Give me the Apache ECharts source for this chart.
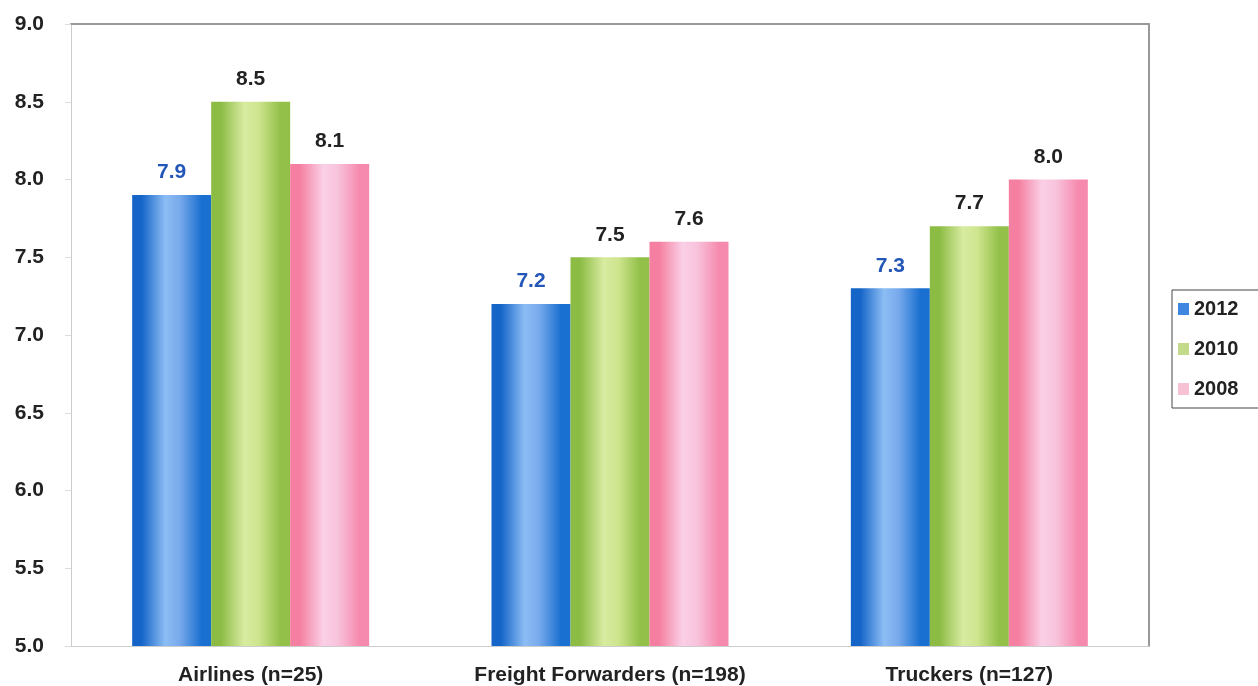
<!DOCTYPE html>
<html>
<head>
<meta charset="utf-8">
<script src="https://cdn.jsdelivr.net/npm/echarts@6/dist/echarts.min.js"></script>
<style>
  html, body { margin: 0; padding: 0; background: #fff; }
  #chart { width: 1258px; height: 686px; }
</style>
</head>
<body>
<div id="chart"></div>
<script>
// Satisfaction scores by carrier type, three survey years
const categories = ['Airlines (n=25)', 'Freight Forwarders (n=198)', 'Truckers (n=127)'];
const years = ['2012', '2010', '2008'];
const scores2012 = [7.9, 7.2, 7.3];
const scores2010 = [8.5, 7.5, 7.7];
const scores2008 = [8.1, 7.6, 8.0];
const yTicks = { min: 5.0, max: 9.0, step: 0.5 };

// Cylinder-like horizontal shading for each year
function shade(edgeL, mid, midLight, edgeR) {
  return new echarts.graphic.LinearGradient(0, 0, 1, 0, [
    { offset: 0, color: edgeL },
    { offset: 0.12, color: edgeL },
    { offset: 0.42, color: midLight },
    { offset: 0.6, color: mid },
    { offset: 0.88, color: edgeR },
    { offset: 1, color: edgeR }
  ]);
}
const fills = [
  shade('#1565c8', '#78aaec', '#8dbdf4', '#1a70d0'),
  shade('#8cbc44', '#cfe58f', '#d8eba0', '#92c048'),
  shade('#f57fa0', '#f8c3dc', '#fad0e6', '#f68aae')
];
const legendMarks = ['#3f86e0', '#c2da8a', '#f6c2d4'];
const labelColors = ['#2456b8', '#222', '#222'];
const seriesValues = [scores2012, scores2010, scores2008];
const font = 'Liberation Sans, Arial, sans-serif';

const chart = echarts.init(document.getElementById('chart'));
chart.setOption({
  animation: false,
  backgroundColor: '#fff',
  grid: { left: 71, right: 109, top: 24, bottom: 40 },
  legend: {
    orient: 'vertical',
    left: 1172,
    top: 290,
    padding: [9, 40, 9, 6],
    itemWidth: 11,
    itemHeight: 12,
    itemGap: 20,
    borderColor: '#444',
    borderWidth: 1,
    icon: 'rect',
    textStyle: { fontFamily: font, fontWeight: 'bold', fontSize: 20, color: '#222' },
    data: years.map((y, i) => ({ name: y, itemStyle: { color: legendMarks[i] } }))
  },
  xAxis: [
    {
      type: 'category',
      data: categories,
      axisLine: { lineStyle: { color: '#ccc', width: 1 } },
      axisTick: { show: false },
      axisLabel: {
        margin: 19,
        fontFamily: font,
        fontWeight: 'bold',
        fontSize: 21,
        color: '#222'
      }
    },
    {
      type: 'category',
      position: 'top',
      data: categories,
      axisLine: { lineStyle: { color: '#999', width: 2 } },
      axisTick: { show: false },
      axisLabel: { show: false }
    }
  ],
  yAxis: [
    {
      type: 'value',
      min: yTicks.min,
      max: yTicks.max,
      interval: yTicks.step,
      axisLine: { show: true, lineStyle: { color: '#ccc', width: 1 } },
      axisTick: { show: true, length: 6, lineStyle: { color: '#ddd' } },
      splitLine: { show: false },
      axisLabel: {
        margin: 27,
        formatter: v => v.toFixed(1),
        fontFamily: font,
        fontWeight: 'bold',
        fontSize: 21,
        color: '#222'
      }
    },
    {
      type: 'value',
      position: 'right',
      min: yTicks.min,
      max: yTicks.max,
      interval: yTicks.step,
      axisLine: { show: true, lineStyle: { color: '#999', width: 2 } },
      axisTick: { show: false },
      splitLine: { show: false },
      axisLabel: { show: false }
    }
  ],
  series: years.map((y, i) => ({
    name: y,
    type: 'bar',
    barWidth: 79,
    barGap: '0%',
    data: seriesValues[i],
    itemStyle: { color: fills[i] },
    label: {
      show: true,
      position: 'top',
      distance: 12,
      formatter: p => p.value.toFixed(1),
      fontFamily: font,
      fontWeight: 'bold',
      fontSize: 21,
      color: labelColors[i]
    }
  }))
});
</script>
</body>
</html>
